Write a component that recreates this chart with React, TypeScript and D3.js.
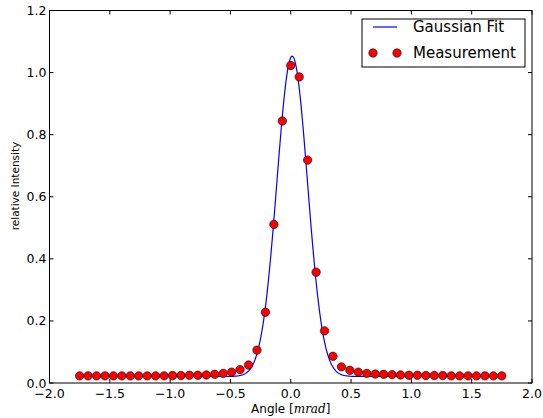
import React from "react";
import * as d3 from "d3";

const angleStart = -1.75;
const angleStep = 0.07;
const measurement = [
  0.023, 0.023, 0.023, 0.023, 0.023, 0.023, 0.023, 0.023, 0.023, 0.023,
  0.023, 0.024, 0.024, 0.025, 0.025, 0.026, 0.028, 0.031, 0.035, 0.043,
  0.058, 0.106, 0.228, 0.511, 0.844, 1.023, 0.986, 0.718, 0.357, 0.168,
  0.086, 0.052, 0.041, 0.035, 0.031, 0.029, 0.028, 0.027, 0.026, 0.025,
  0.025, 0.024, 0.024, 0.024, 0.023, 0.023, 0.023, 0.023, 0.023, 0.023, 0.023,
];
// Gaussian fit parameters: baseline, amplitude, centre, sigma
const fitParams = { base: 0.021, amp: 1.032, mu: 0.012, sigma: 0.127 };
const xTicks = [-2.0, -1.5, -1.0, -0.5, 0.0, 0.5, 1.0, 1.5, 2.0];
const yTicks = [0.0, 0.2, 0.4, 0.6, 0.8, 1.0, 1.2];

const W = 543, H = 418;
const left = 49.5, right = 532, top = 10.5, bottom = 383;

export default function App() {
  const x = d3.scaleLinear().domain([-2, 2]).range([left, right]);
  const y = d3.scaleLinear().domain([0, 1.2]).range([bottom, top]);
  const pts = measurement.map((v, i) => ({ a: angleStart + i * angleStep, v }));
  const n = 701;
  const fit = d3.range(n).map((i) => {
    const a = angleStart + (i / (n - 1)) * (-2 * angleStart);
    const { base, amp, mu, sigma } = fitParams;
    return { a, v: base + amp * Math.exp(-((a - mu) ** 2) / (2 * sigma * sigma)) };
  });
  const line = d3.line<{ a: number; v: number }>().x((d) => x(d.a)).y((d) => y(d.v));
  const font = "'DejaVu Sans', sans-serif";
  const fs = 12.5;
  const fmt = (v: number) => (v < 0 ? "\u2212" : "") + Math.abs(v).toFixed(1);
  return (
    <svg width={W} height={H} style={{ position: "absolute", left: 0, top: 0, background: "#fff" }}
      fontFamily={font}>
      <rect x={0} y={0} width={W} height={H} fill="#fff" />
      <path d={line(fit) || ""} fill="none" stroke="#0000ff" strokeWidth={1.2} />
      {pts.map((p, i) => (
        <circle key={i} cx={x(p.a)} cy={y(p.v)} r={4.2} fill="#ff0000" stroke="#000" strokeWidth={0.6} />
      ))}
      {xTicks.map((t, i) => (
        <g key={"x" + i}>
          <line x1={x(t)} x2={x(t)} y1={bottom} y2={bottom - 4} stroke="#000" />
          <line x1={x(t)} x2={x(t)} y1={top} y2={top + 4} stroke="#000" />
          <text x={x(t)} y={bottom + 15} fontSize={fs} textAnchor="middle">{fmt(t)}</text>
        </g>
      ))}
      {yTicks.map((t, i) => (
        <g key={"y" + i}>
          <line x1={left} x2={left + 4} y1={y(t)} y2={y(t)} stroke="#000" />
          <line x1={right} x2={right - 4} y1={y(t)} y2={y(t)} stroke="#000" />
          <text x={left - 3} y={y(t) + 4.5} fontSize={fs} textAnchor="end">{fmt(t)}</text>
        </g>
      ))}
      <rect x={left} y={top} width={right - left} height={bottom - top} fill="none" stroke="#000" strokeWidth={1} />
      <text x={(left + right) / 2} y={413} fontSize={12} textAnchor="middle">
        Angle [<tspan fontFamily="'DejaVu Serif', serif" fontStyle="italic">mrad</tspan>]
      </text>
      <text transform={`translate(19,186) rotate(-90)`} fontSize={10.5} textAnchor="middle">
        relative Intensity
      </text>
      <g>
        <rect x={362} y={19} width={163} height={48} fill="#fff" stroke="#000" strokeWidth={1} />
        <line x1={373} x2={397} y1={27} y2={27} stroke="#0000ff" strokeWidth={1.2} />
        <text x={413} y={32} fontSize={15}>Gaussian Fit</text>
        <circle cx={373} cy={53} r={4.2} fill="#ff0000" stroke="#000" strokeWidth={0.6} />
        <circle cx={397} cy={53} r={4.2} fill="#ff0000" stroke="#000" strokeWidth={0.6} />
        <text x={413} y={58} fontSize={15}>Measurement</text>
      </g>
    </svg>
  );
}
